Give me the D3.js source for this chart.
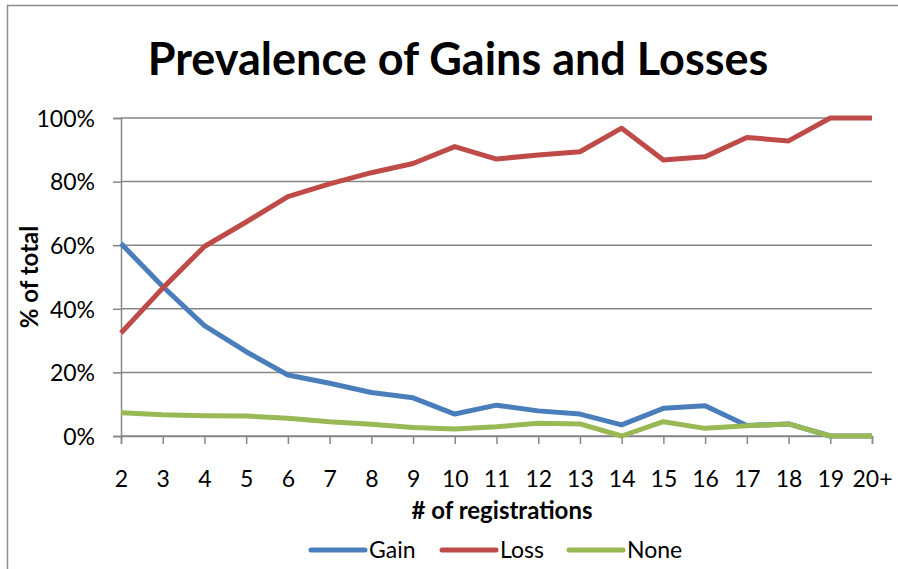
<!DOCTYPE html>
<html>
<head>
<meta charset="utf-8">
<script src="https://cdn.jsdelivr.net/npm/d3@7"></script>
<style>
    html, body { margin: 0; padding: 0; background: #fff; }
    svg text { font-family: Lato, "Noto Sans", sans-serif; fill: #000; }
</style>
</head>
<body>
<div id="chart"></div>
<script>
// data
const categories = ['2', '3', '4', '5', '6', '7', '8', '9', '10', '11', '12', '13', '14', '15', '16', '17', '18', '19', '20+'];
const gain = [60.5, 47, 34.7, 26.5, 19.2, 16.6, 13.7, 12, 6.9, 9.7, 7.9, 6.9, 3.5, 8.7, 9.5, 3.3, 3.8, 0, 0];
const loss = [32.4, 46.5, 59.6, 67.3, 75.3, 79.3, 82.8, 85.7, 91, 87.1, 88.4, 89.4, 96.8, 86.8, 87.8, 93.9, 92.8, 100, 100];
const none = [7.3, 6.7, 6.4, 6.3, 5.6, 4.5, 3.7, 2.7, 2.2, 2.9, 4, 3.8, 0, 4.5, 2.4, 3.2, 3.8, 0, 0];
const yTicks = [0, 20, 40, 60, 80, 100];

const seriesNames = ['Gain', 'Loss', 'None'];
const seriesColors = ['#4a7ebb', '#be4b48', '#98b954'];
const seriesValues = [gain, loss, none];

const width = 898, height = 569;
const margin = { top: 118, right: 26, bottom: 133, left: 121 };
const plotW = width - margin.left - margin.right;
const plotH = height - margin.top - margin.bottom;

const svg = d3.select('#chart')
    .append('svg')
    .attr('width', width)
    .attr('height', height);

// chart frame
svg.append('rect')
    .attr('x', 7.5).attr('y', 5.5)
    .attr('width', width + 20).attr('height', height + 20)
    .attr('fill', 'none')
    .attr('stroke', '#8c8c8c')
    .attr('stroke-width', 1.5);

const g = svg.append('g').attr('transform', `translate(${margin.left},${margin.top})`);

const x = d3.scalePoint().domain(categories).range([0, plotW]);
const y = d3.scaleLinear().domain([0, 100]).range([plotH, 0]);

// gridlines + y axis
const yAxis = d3.axisLeft(y)
    .tickValues(yTicks)
    .tickSize(8)
    .tickPadding(18)
    .tickFormat(d => d + '%');

const yg = g.append('g').call(yAxis);
yg.select('.domain').attr('stroke', '#868686').attr('stroke-width', 1.5);
yg.selectAll('.tick line').attr('stroke', '#868686').attr('stroke-width', 1.5);
yg.selectAll('.tick text').attr('font-size', 23).attr('dy', '0.36em');

g.append('g')
    .selectAll('line')
    .data(yTicks)
    .join('line')
    .attr('x1', 0).attr('x2', plotW)
    .attr('y1', d => y(d)).attr('y2', d => y(d))
    .attr('stroke', '#868686')
    .attr('stroke-width', 1.5);

// x axis
const xAxis = d3.axisBottom(x).tickSize(8).tickPadding(27);
const xg = g.append('g').attr('transform', `translate(0,${plotH})`).call(xAxis);
xg.select('.domain').attr('stroke', '#868686').attr('stroke-width', 1.5);
xg.selectAll('.tick line').attr('stroke', '#868686').attr('stroke-width', 1.5);
xg.selectAll('.tick text').attr('font-size', 23).attr('dy', '0.71em');

// lines
const line = d3.line()
    .x((d, i) => x(categories[i]))
    .y(d => y(d));

g.append('g')
    .selectAll('path')
    .data(seriesValues)
    .join('path')
    .attr('d', d => line(d))
    .attr('fill', 'none')
    .attr('stroke', (d, i) => seriesColors[i])
    .attr('stroke-width', 5)
    .attr('stroke-linejoin', 'round');

// title
svg.append('text')
    .attr('x', 458).attr('y', 75)
    .attr('text-anchor', 'middle')
    .attr('font-size', 45)
    .attr('font-weight', 'bold')
    .text('Prevalence of Gains and Losses');

// axis titles
svg.append('text')
    .attr('x', 502).attr('y', 519)
    .attr('text-anchor', 'middle')
    .attr('font-size', 24)
    .attr('font-weight', 'bold')
    .text('# of registrations');

svg.append('text')
    .attr('transform', `translate(38,${margin.top + plotH / 2}) rotate(-90)`)
    .attr('text-anchor', 'middle')
    .attr('font-size', 24)
    .attr('font-weight', 'bold')
    .text('% of total');

// legend
const legendX = [311, 442, 569];
const legend = svg.append('g')
    .selectAll('g')
    .data(seriesNames)
    .join('g')
    .attr('transform', (d, i) => `translate(${legendX[i]},550)`);

legend.append('line')
    .attr('x1', 0).attr('x2', 54)
    .attr('stroke', (d, i) => seriesColors[i])
    .attr('stroke-width', 5)
    .attr('stroke-linecap', 'round');

legend.append('text')
    .attr('x', 58)
    .attr('dy', '0.36em')
    .attr('font-size', 23)
    .text(d => d);
</script>
</body>
</html>
